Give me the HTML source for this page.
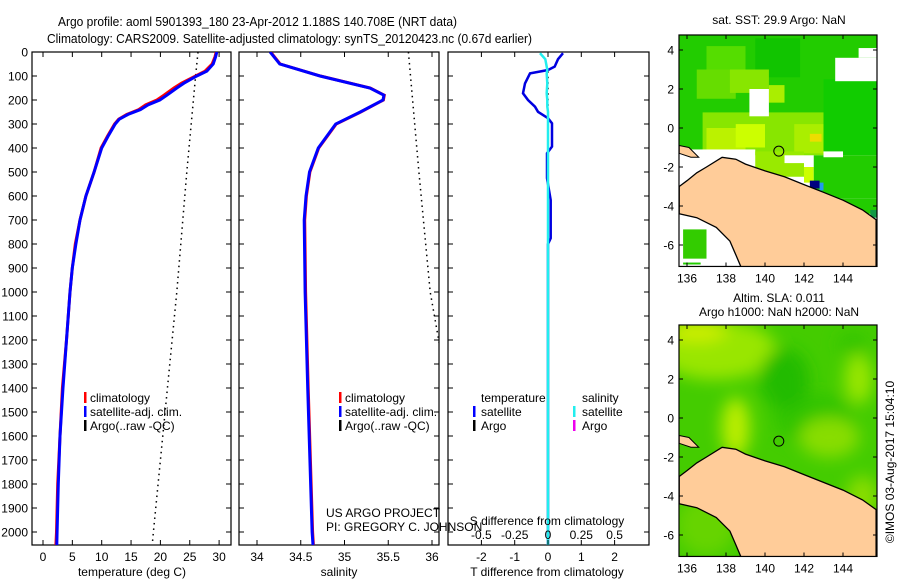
<!DOCTYPE html>
<html><head><meta charset="utf-8"><style>
body{margin:0;background:#fff;}
svg{display:block;font-family:"Liberation Sans",sans-serif;}
text{fill:#000;}
</style></head><body>
<svg id="fig" width="900" height="580" viewBox="0 0 900 580" xmlns="http://www.w3.org/2000/svg">
<rect width="900" height="580" fill="#fff"/>
<text x="58" y="26" font-size="13" textLength="399" lengthAdjust="spacingAndGlyphs">Argo profile: aoml 5901393_180 23-Apr-2012 1.188S 140.708E (NRT data)</text>
<text x="47" y="43" font-size="13" textLength="485" lengthAdjust="spacingAndGlyphs">Climatology: CARS2009. Satellite-adjusted climatology: synTS_20120423.nc (0.67d earlier)</text>
<text x="779" y="24" font-size="12" text-anchor="middle">sat. SST: 29.9 Argo: NaN</text>
<text x="779" y="302" font-size="12" text-anchor="middle">Altim. SLA: 0.011</text>
<text x="779" y="316" font-size="12" text-anchor="middle">Argo h1000: NaN h2000: NaN</text>
<text transform="translate(894,462) rotate(-90)" font-size="12" text-anchor="middle">©IMOS 03-Aug-2017 15:04:10</text>
<g id="panels"></g>
<g id="maps"></g>
</svg>
<script>
// ---- data ----
const depthT = [0,20,50,80,100,130,150,180,200,220,240,260,280,300,350,400,500,600,700,800,900,1000,1200,1400,1600,1800,2000,2054];
const tempSat = [29.6,29.4,29,27.9,26.2,24,22.8,21.1,19.9,17.9,16.6,14.5,13.0,12.3,11.1,10,8.7,7.3,6.3,5.6,5.0,4.6,4.0,3.4,2.9,2.6,2.4,2.35];
const tempClim = [29.5,29.3,28.8,27.6,26.0,23.6,22.3,20.6,19.4,17.5,16.3,14.3,12.9,12.2,11.0,9.9,8.7,7.3,6.3,5.5,5.0,4.6,4.0,3.3,2.9,2.5,2.3,2.2];
const depthArgo = [0,100,500,1000,1500,2000,2054];
const tempArgo = [26.4,26,24.5,22.8,20.8,18.8,18.6];
const depthS = [0,50,100,150,180,200,250,300,400,500,600,700,1000,1400,2000,2054];
const salSat = [34.15,34.26,34.72,35.29,35.45,35.44,35.18,34.9,34.7,34.6,34.56,34.54,34.55,34.58,34.63,34.64];
const salArgoDepth = [0,500,1000,1250];
const salArgo = [35.73,35.85,35.98,36.1];
const depthD = [5,30,61,75,89,131,172,200,228,249,276,297,394,422,526,617,776,800,2054];
const tDiff = [0.45,0.3,0.2,0,-0.54,-0.69,-0.75,-0.6,-0.39,-0.3,0,0.12,0.12,-0.03,-0.03,0.08,0.08,0,0];
const sDiff = [-0.06,-0.02,-0.01,-0.005,-0.01,-0.005,-0.01,-0.005,-0.005,0,0,0,0,0,0,0,0,0,0];
const depthTicks = [0,100,200,300,400,500,600,700,800,900,1000,1100,1200,1300,1400,1500,1600,1700,1800,1900,2000];
const tTicks = [0,5,10,15,20,25,30];
const sTicks = [34,34.5,35,35.5,36];
const dTicks = [-2,-1,0,1,2];
const sdTicks = [-0.5,-0.25,0,0.25,0.5];
const sdTickLabels = ["-0.5","-0.25","0","0.25","0.5"];
const lonTicks = [136,138,140,142,144];
const latTicks = [4,2,0,-2,-4,-6];
const floatPos = [140.708,-1.188];

const NS='http://www.w3.org/2000/svg';
function el(tag,attrs,parent){const e=document.createElementNS(NS,tag);for(const k in attrs)e.setAttribute(k,attrs[k]);parent.appendChild(e);return e;}
const P=document.getElementById('panels');
const yD = d => 52 + d*0.24;
const xT = t => 43 + t*5.87;
const xS = s => 257 + (s-34)*87.5;
const xD = d => 548 + d*33.3;
const xSD = s => 548 + s*4*33.3;
const TOP=52,BOT=545;

function frame(x0,x1,name,labelsLeft){
  const g=el('g',{},P);
  
  
  el('rect',{x:x0,y:TOP,width:x1-x0,height:BOT-TOP,fill:'#fff',stroke:'#000','stroke-width':1.2},g);
  depthTicks.forEach(d=>{
    const y=yD(d);
    el('line',{x1:x0,x2:x0+5,y1:y,y2:y,stroke:'#000'},g);
    el('line',{x1:x1-5,x2:x1,y1:y,y2:y,stroke:'#000'},g);
    if(labelsLeft){const t=el('text',{x:x0-4,y:y+4.5,'font-size':12,'text-anchor':'end'},g);t.textContent=d;
      
      }
  });
  return g;
}
function xticks(g,ticks,fx,labels,ly){
  ticks.forEach((v,i)=>{const x=fx(v);
    el('line',{x1:x,x2:x,y1:TOP,y2:TOP+5,stroke:'#000'},g);
    el('line',{x1:x,x2:x,y1:BOT-5,y2:BOT,stroke:'#000'},g);
    const t=el('text',{x:x,y:ly,'font-size':12,'text-anchor':'middle'},g);t.textContent=labels?labels[i]:v;
    
    
  });
}
function line(g,xs,ds,fx,color,w,name,dash){
  const pts=xs.map((v,i)=>fx(v).toFixed(1)+','+yD(ds[i]).toFixed(1)).join(' ');
  const a={points:pts,fill:'none',stroke:color,'stroke-width':w,'stroke-linejoin':'miter'};
  if(dash)a['stroke-dasharray']=dash;
  const p=el('polyline',a,g);
  
  
  return p;
}
function txt(g,x,y,s,name,size,anchor){const t=el('text',{x:x,y:y,'font-size':size||12,'text-anchor':anchor||'start'},g);t.textContent=s;
  
  return t;}
function legbar(g,x,y,c,name){const r=el('rect',{x:x,y:y-10,width:2.5,height:11,fill:c},g);
  
  }

// panel 1 temperature
const g1=frame(32,231,'temperature-panel',true);
const cp1=el('clipPath',{id:'c1'},g1);el('rect',{x:32,y:TOP,width:199,height:BOT-TOP},cp1);
const c1=el('g',{'clip-path':'url(#c1)'},g1);
line(c1,tempArgo,depthArgo,xT,'#000',1.5,'argo-temperature-line','1.5 4');
line(c1,tempClim,depthT,xT,'#f00',3,'climatology-temperature-line');
line(c1,tempSat,depthT,xT,'#00f',3,'satellite-temperature-line');
xticks(g1,tTicks,xT,null,561);
txt(g1,132,576,'temperature (deg C)','x-axis-title-temperature',12,'middle');
legbar(g1,84,402,'#f00','legend-climatology-swatch');txt(g1,90,402,'climatology','legend-climatology');
legbar(g1,84,416,'#00f','legend-satellite-swatch');txt(g1,90,416,'satellite-adj. clim.','legend-satellite-adj');
legbar(g1,84,430,'#000','legend-argo-swatch');txt(g1,90,430,'Argo(..raw -QC)','legend-argo');

// panel 2 salinity
const g2=frame(239,439,'salinity-panel',false);
const cp2=el('clipPath',{id:'c2'},g2);el('rect',{x:239,y:TOP,width:200,height:BOT-TOP},cp2);
const c2=el('g',{'clip-path':'url(#c2)'},g2);
line(c2,salArgo,salArgoDepth,xS,'#000',1.5,'argo-salinity-line','1.5 4');
line(c2,salSat.map(s=>s+0.005),depthS,xS,'#f00',3,'climatology-salinity-line');
line(c2,salSat,depthS,xS,'#00f',3,'satellite-salinity-line');
xticks(g2,sTicks,xS,null,561);
txt(g2,339,576,'salinity','x-axis-title-salinity',12,'middle');
legbar(g2,339,402,'#f00','legend2-climatology-swatch');txt(g2,345,402,'climatology','legend2-climatology');
legbar(g2,339,416,'#00f','legend2-satellite-swatch');txt(g2,345,416,'satellite-adj. clim.','legend2-satellite-adj');
legbar(g2,339,430,'#000','legend2-argo-swatch');txt(g2,345,430,'Argo(..raw -QC)','legend2-argo');

// panel 3 differences
const g3=frame(448,649,'difference-panel',false);
const cp3=el('clipPath',{id:'c3'},g3);el('rect',{x:448,y:TOP,width:201,height:BOT-TOP},cp3);
const c3=el('g',{'clip-path':'url(#c3)'},g3);
const zl=el('line',{x1:xD(0),x2:xD(0),y1:yD(80),y2:yD(230),stroke:'#000','stroke-width':1.5,'stroke-dasharray':'1.5 4'},c3);


line(c3,tDiff,depthD,xD,'#0000e0',2.5,'temperature-difference-line');
line(c3,sDiff,depthD,xSD,'#22eeee',2.5,'salinity-difference-line');
xticks(g3,dTicks,xD,null,561);
sdTicks.forEach((v,i)=>txt(g3,xSD(v),539,sdTickLabels[i],'s-diff-tick-label',12,'middle'));
txt(g3,547,525,'S difference from climatology','s-diff-axis-title',12,'middle');
txt(g3,547,576,'T difference from climatology','t-diff-axis-title',12,'middle');
txt(g3,481,402,'temperature','legend3-temperature-header');
txt(g3,582,402,'salinity','legend3-salinity-header');
legbar(g3,473,416,'#00f','legend3-t-satellite-swatch');txt(g3,481,416,'satellite','legend3-t-satellite');
legbar(g3,473,430,'#000','legend3-t-argo-swatch');txt(g3,481,430,'Argo','legend3-t-argo');
legbar(g3,573,416,'#22eeee','legend3-s-satellite-swatch');txt(g3,582,416,'satellite','legend3-s-satellite');
legbar(g3,573,430,'#e0e','legend3-s-argo-swatch');txt(g3,582,430,'Argo','legend3-s-argo');
txt(P,326,517,'US ARGO PROJECT','project-label');
txt(P,326,531,'PI: GREGORY C. JOHNSON','pi-label');

// ---- maps ----
const M=document.getElementById('maps');
const lonX = l => 687 + (l-136)*19.5;
const coast=[[135.6,-3.0],[136,-2.7],[136.5,-2.3],[137,-2.0],[137.8,-1.5],[138.5,-1.6],[139,-1.85],[140,-2.2],[141,-2.5],[142,-2.9],[143,-3.3],[144,-3.7],[145,-4.2],[145.7,-4.7],[145.7,-7.2],[138.8,-7.2],[138.5,-6.5],[138.2,-5.8],[137.5,-5.1],[136.5,-4.6],[135.6,-4.4]];
const island=[[135.6,-0.9],[136.1,-1.0],[136.6,-1.5],[136.2,-1.5],[135.6,-1.3]];
function drawMap(y0,name,kind){
  const latY = la => y0 - la*19.5;
  const g=el('g',{},M);
  
  
  const id='cm'+kind;
  const cp=el('clipPath',{id:id},g);el('rect',{x:679,y:latY(4.77),width:198,height:latY(-7.1)-latY(4.77)},cp);
  const c=el('g',{'clip-path':'url('+'#'+id+')'},g);
  const R=(l0,l1,a0,a1,f)=>el('rect',{x:lonX(l0),y:latY(a1),width:lonX(l1)-lonX(l0),height:latY(a0)-latY(a1),fill:f},c);
  if(kind==1){
    R(135.6,145.8,-7.2,4.8,'#22cc00');
    R(137,139,2.5,4.2,'#55dd00');R(139.5,141.8,2.6,4.6,'#11c400');
    R(136.5,138.5,1.5,3,'#66dd00');R(138.2,140.2,1.8,3,'#88e600');
    R(136.8,143,-1.5,0.8,'#88e600');R(137,139,-1.2,0,'#bbf200');
    R(138.5,140,-1,0.2,'#ccff00');R(141.5,143,-1.3,0.2,'#aaee00');R(142.3,142.9,-0.7,-0.3,'#eedd00');
    R(140.2,141,1.3,2.2,'#aaee00');R(143,145.8,-4.5,2.5,'#11cc00');
    R(139.2,140.2,0.6,2.0,'#fff');R(143.6,145.8,2.4,3.6,'#fff');R(144.8,145.8,3.6,4.1,'#fff');R(144.5,145.8,2.6,3.0,'#fff');
    R(135.6,145.8,-7.2,-1.4,'#fff');R(135.6,139.5,-7.2,-1.1,'#fff');
    R(139.5,142,-2.5,-1.2,'#99ea00');R(142,142.5,-2.8,-2.0,'#ccff00');
    R(142.5,145.8,-3.6,-1.4,'#22cc00');R(143.5,145.8,-4.4,-3.6,'#22cc00');
    R(135.8,137,-6.7,-5.2,'#33cc00');R(135.8,136.7,-7.0,-6.9,'#22cc00');
    R(142.3,142.8,-3.1,-2.7,'#000080');R(142.8,143,-3.2,-2.8,'#2299ee');R(145.4,145.8,-4.6,-4.2,'#119944');
    R(143,144,-1.5,-1.2,'#fff');R(141,142,-1.8,-1.4,'#fff');R(135.8,136.2,-1.2,-0.4,'#22cc00');
  } else {
    R(135.6,145.8,-7.2,4.8,'#44cc00');
    const f=el('filter',{id:'bl'},g);el('feGaussianBlur',{stdDeviation:8},f);
    const b=el('g',{filter:'url(#bl)'},c);
    const E=(l,a,rx,ry,col)=>el('ellipse',{cx:lonX(l),cy:latY(a),rx:rx,ry:ry,fill:col},b);
    E(137.5,3.5,60,30,'#99e600');E(136.5,4.5,30,12,'#ccee00');E(138.5,-0.5,14,30,'#bbee00');
    E(142.5,0,40,25,'#33c400');E(141,2,25,30,'#22bb00');E(144.8,2,14,25,'#99e600');
    E(143.3,-1,30,20,'#88dd00');E(145,-4,16,20,'#88dd00');E(144.5,3.8,15,10,'#33c400');
    E(137,-5.5,30,30,'#66d400');
  }
  const pts=coast.map(p=>lonX(p[0]).toFixed(1)+','+latY(p[1]).toFixed(1)).join(' ');
  const land=el('polygon',{points:pts,fill:'#ffcc99',stroke:'#000','stroke-width':1.3},c);
  
  
  el('polygon',{points:island.map(p=>lonX(p[0])+','+latY(p[1])).join(' '),fill:'#ffcc99',stroke:'#000','stroke-width':1},c);
  const mk=el('circle',{cx:lonX(floatPos[0]),cy:latY(floatPos[1]),r:5,fill:'none',stroke:'#000','stroke-width':1},g);
  
  
  el('rect',{x:679,y:latY(4.77),width:198,height:latY(-7.1)-latY(4.77),fill:'none',stroke:'#000','stroke-width':1.2},g);
  lonTicks.forEach(l=>{const x=lonX(l);
    el('line',{x1:x,x2:x,y1:latY(4.77),y2:latY(4.77)+4,stroke:'#000'},g);
    el('line',{x1:x,x2:x,y1:latY(-7.1)-4,y2:latY(-7.1),stroke:'#000'},g);
    txt(g,x,latY(-7.1)+16,String(l),'lon-tick-label',12,'middle');});
  latTicks.forEach(a=>{const y=latY(a);
    el('line',{x1:679,x2:683,y1:y,y2:y,stroke:'#000'},g);
    el('line',{x1:873,x2:877,y1:y,y2:y,stroke:'#000'},g);
    txt(g,674,y+4.5,String(a),'lat-tick-label',12,'end');});
}
drawMap(128,'sst-map',1);
drawMap(418,'sla-map',2);
</script>
</body></html>
